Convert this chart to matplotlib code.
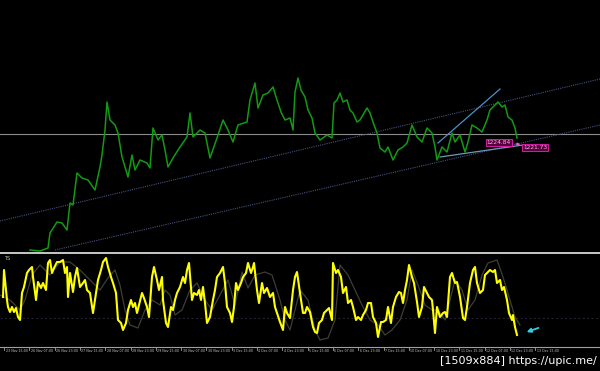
import matplotlib
matplotlib.use("Agg")
import matplotlib.pyplot as plt
from matplotlib.lines import Line2D

# ---------------- data ----------------
# main price series (bar number, close)
price_bars = [30, 40, 48, 50, 57, 62, 67, 70, 73, 77, 82, 88, 95, 100, 102, 105, 107, 110, 115, 118,
              122, 128, 132, 135, 140, 147, 150, 153, 158, 162, 165, 168, 173, 180, 187, 190, 193, 200,
              205, 210, 217, 223, 228, 233, 238, 247, 250, 255, 258, 263, 268, 273, 277, 281, 285, 290,
              293, 295, 298, 301, 305, 308, 312, 315, 320, 327, 332, 334, 337, 340, 343, 347, 350, 353,
              357, 360, 367, 370, 373, 377, 380, 385, 388, 393, 398, 403, 407, 412, 417, 422, 427, 432,
              435, 437, 442, 447, 452, 455, 460, 465, 468, 472, 477, 482, 487, 490, 495, 498, 502, 505,
              508, 512, 515, 517]
price_close = [1161.2, 1160.6, 1162.4, 1171.4, 1178.0, 1177.4, 1173.2, 1189.4, 1188.2, 1207.4, 1204.4,
               1203.2, 1197.2, 1211.0, 1218.2, 1233.2, 1250.0, 1239.2, 1236.2, 1231.4, 1217.0, 1205.0,
               1218.2, 1209.2, 1215.2, 1213.4, 1210.4, 1234.4, 1227.2, 1230.2, 1221.2, 1211.0, 1216.4,
               1223.0, 1229.0, 1243.4, 1229.0, 1233.2, 1231.4, 1216.4, 1228.4, 1239.2, 1233.2, 1226.0,
               1236.2, 1238.0, 1251.2, 1261.4, 1246.4, 1254.2, 1255.4, 1259.0, 1251.2, 1244.0, 1239.2,
               1240.4, 1233.2, 1256.0, 1264.4, 1257.2, 1253.0, 1245.2, 1240.4, 1231.4, 1227.2, 1230.2,
               1228.4, 1249.4, 1251.2, 1255.4, 1250.0, 1251.2, 1245.2, 1243.4, 1238.0, 1239.2, 1246.4,
               1243.4, 1238.0, 1231.4, 1222.4, 1220.0, 1223.0, 1215.2, 1221.2, 1223.0, 1225.4, 1236.2,
               1229.0, 1226.0, 1234.4, 1231.4, 1223.0, 1215.2, 1223.0, 1220.0, 1231.4, 1226.0, 1230.2,
               1220.0, 1226.0, 1236.2, 1234.4, 1232.0, 1239.2, 1245.2, 1248.2, 1250.0, 1247.0, 1248.2,
               1241.0, 1239.2, 1234.4, 1228.4]

hline_price = 1230.8
channel_upper = ([0, 600], [1178.6, 1263.8])
channel_lower = ([55, 600], [1161.2, 1236.2])
trend_up = ([438, 500], [1225.4, 1257.8])
trend_low = ([440, 523], [1217.0, 1224.2])
level_labels = ["1224.84", "1221.73"]
level_label_bars = [499, 535]
level_label_prices = [1225.6, 1222.6]

# oscillator (main yellow line)
osc_bars = [3, 4, 7, 8, 10, 12, 14, 16, 18, 20, 22, 24, 27, 29, 32, 33, 36, 38, 41, 43, 46, 48, 50, 52,
            54, 57, 60, 63, 65, 67, 68, 70, 73, 75, 77, 80, 83, 85, 87, 90, 93, 96, 98, 101, 103, 106,
            108, 111, 113, 116, 118, 121, 123, 126, 128, 131, 133, 135, 137, 139, 142, 144, 147, 149,
            152, 154, 157, 159, 162, 163, 166, 168, 171, 173, 175, 177, 180, 183, 185, 187, 189, 192,
            194, 197, 199, 201, 203, 205, 207, 210, 213, 215, 217, 220, 223, 225, 227, 230, 232, 234,
            236, 238, 241, 243, 246, 248, 251, 253, 254, 257, 259, 262, 264, 267, 270, 273, 275, 277,
            280, 283, 285, 287, 290, 293, 295, 297, 300, 303, 305, 307, 310, 313, 315, 317, 319, 322,
            324, 327, 329, 332, 333, 336, 338, 341, 343, 346, 348, 351, 353, 356, 358, 361, 363, 366,
            368, 371, 373, 376, 378, 381, 383, 386, 388, 391, 393, 396, 399, 401, 403, 405, 407, 409,
            412, 414, 417, 419, 422, 424, 427, 429, 432, 433, 435, 437, 440, 443, 445, 447, 450, 452,
            455, 457, 460, 463, 465, 467, 470, 473, 475, 477, 480, 483, 485, 487, 490, 493, 495, 497,
            500, 502, 504, 507, 509, 512, 513, 515, 517]
osc_main = [41, 68, 38, 31, 26, 31, 26, 30, 21, 18, 45, 51, 65, 68, 71, 61, 38, 56, 50, 55, 48, 75, 78,
            65, 70, 76, 76, 78, 65, 71, 41, 65, 46, 61, 70, 51, 55, 58, 48, 45, 25, 45, 58, 68, 76, 80,
            71, 61, 55, 45, 18, 15, 8, 15, 28, 38, 31, 35, 25, 33, 45, 40, 31, 21, 61, 71, 58, 48, 61,
            38, 15, 11, 31, 28, 38, 45, 51, 61, 55, 68, 75, 38, 45, 43, 48, 38, 51, 35, 15, 21, 38, 48,
            61, 65, 71, 55, 31, 25, 16, 31, 55, 48, 55, 61, 65, 75, 65, 71, 75, 48, 35, 55, 45, 50, 41,
            45, 31, 25, 16, 8, 31, 25, 20, 48, 61, 66, 45, 25, 25, 31, 26, 11, 6, 5, 15, 18, 25, 28, 30,
            18, 75, 65, 68, 61, 45, 51, 35, 38, 31, 18, 21, 18, 23, 28, 35, 35, 21, 15, 1, 16, 16, 18,
            31, 15, 31, 41, 46, 45, 35, 48, 58, 73, 61, 55, 36, 21, 31, 51, 45, 41, 38, 28, 5, 31, 21,
            25, 26, 21, 61, 65, 55, 56, 41, 20, 18, 31, 55, 68, 71, 55, 45, 48, 63, 65, 68, 66, 68, 55,
            58, 48, 51, 38, 25, 18, 23, 11, 3]

# oscillator signal line (grey)
sig_bars = [0, 10, 20, 25, 32, 40, 50, 60, 70, 80, 90, 100, 108, 115, 120, 125, 130, 138, 145, 152,
            160, 165, 170, 175, 182, 190, 197, 205, 212, 220, 228, 235, 242, 248, 255, 265, 272, 280,
            285, 290, 295, 300, 308, 315, 320, 328, 335, 340, 348, 355, 362, 370, 378, 385, 392, 400,
            407, 412, 418, 425, 432, 438, 445, 450, 455, 462, 468, 475, 482, 488, 497, 503, 510, 515, 520]
sig_line = [43, 38, 28, 38, 63, 73, 63, 76, 76, 68, 58, 48, 60, 68, 53, 28, 13, 10, 28, 38, 33, 48, 43,
            23, 28, 48, 55, 38, 28, 43, 58, 33, 66, 50, 63, 66, 63, 38, 18, 8, 28, 48, 38, 8, -2, 0, 18,
            73, 63, 48, 33, 18, 13, 3, 8, 18, 38, 68, 53, 33, 28, 28, 18, 38, 58, 48, 28, 38, 63, 75, 78,
            61, 38, 21, 13]
osc_level = 20

time_labels = ["23 Nov 15:00", "26 Nov 07:00", "26 Nov 23:00", "27 Nov 15:00", "28 Nov 07:00",
               "28 Nov 23:00", "29 Nov 15:00", "30 Nov 07:00", "30 Nov 23:00", "3 Dec 15:00",
               "4 Dec 07:00", "4 Dec 23:00", "5 Dec 15:00", "6 Dec 07:00", "6 Dec 23:00",
               "7 Dec 15:00", "10 Dec 07:00", "10 Dec 23:00", "11 Dec 15:00", "12 Dec 07:00",
               "12 Dec 23:00", "13 Dec 15:00"]
indicator_name = "TS"
watermark = "[1509x884] https://upic.me/"

# ---------------- figure ----------------
W, H = 600, 371
fig = plt.figure(figsize=(W / 100, H / 100), dpi=100, facecolor="black")


def px_axes(top, bottom):
    return fig.add_axes([0, 1 - bottom / H, 1, (bottom - top) / H])


ax = px_axes(0, 252)
ax.set_facecolor("black")
ax.set_xlim(0, 600)
ax.set_ylim(1160.0, 1311.2)
ax.axis("off")

ax.axhline(hline_price, color="#8c8c8c", lw=0.8)
ax.plot(*channel_upper, color="#46527e", lw=0.8, ls=(0, (1, 1)))
ax.plot(*channel_lower, color="#46527e", lw=0.8, ls=(0, (1, 1)))
ax.plot(*trend_up, color="#4f8fc8", lw=0.9)
ax.plot(*trend_low, color="#6a9ab8", lw=0.9)
ax.plot(price_bars, price_close, color="#139a13", lw=1.1)

for lab, b, p in zip(level_labels, level_label_bars, level_label_prices):
    ax.text(b, p, lab, color="#ffb0e0", fontsize=4.2, ha="center", va="center",
            bbox=dict(boxstyle="square,pad=0.15", fc="#5a0040", ec="#d020a0", lw=0.7))
ax.annotate("", xy=(523, 1224.4), xytext=(513, 1225.0),
            arrowprops=dict(arrowstyle="-|>", color="#e060c0", lw=0.7, mutation_scale=4))

# ---------------- indicator ----------------
ai = px_axes(254, 347)
ai.set_facecolor("black")
ai.set_xlim(0, 600)
ai.set_ylim(-9, 84)
ai.axis("off")
ai.axhline(osc_level, color="#22222e", lw=0.8, ls=(0, (2, 2)))
ai.plot(sig_bars, sig_line, color="#3e3e36", lw=0.9)
ai.plot(osc_bars, osc_main, color="#ffff00", lw=1.5)
ai.annotate("", xy=(524, 5), xytext=(541, 11),
            arrowprops=dict(arrowstyle="-|>", color="#30d0e0", lw=1.3, mutation_scale=6))
ai.text(4, 82, indicator_name, color="#c0c0c0", fontsize=3.5, va="top")

# separators / axis line
fig.add_artist(Line2D([0, 1], [1 - 252.8 / H] * 2, color="#c8c8c8", lw=1.4))
fig.add_artist(Line2D([0, 1], [1 - 347.3 / H] * 2, color="#a0a0a0", lw=0.8))

# time labels
for i, lab in enumerate(time_labels):
    x = (4 + 25.3 * i) / W
    fig.add_artist(Line2D([x, x], [1 - 347.3 / H, 1 - 349.5 / H], color="#a0a0a0", lw=0.6))
    fig.text(x + 1.5 / W, 1 - 349.3 / H, lab, color="#c8c8c8", fontsize=2.3, ha="left", va="top")

# watermark
fig.text(597 / W, 1 - 360.5 / H, watermark, color="white", fontsize=8, ha="right", va="center",
         family="DejaVu Sans")

fig.savefig("out.png", dpi=100, facecolor="black")
